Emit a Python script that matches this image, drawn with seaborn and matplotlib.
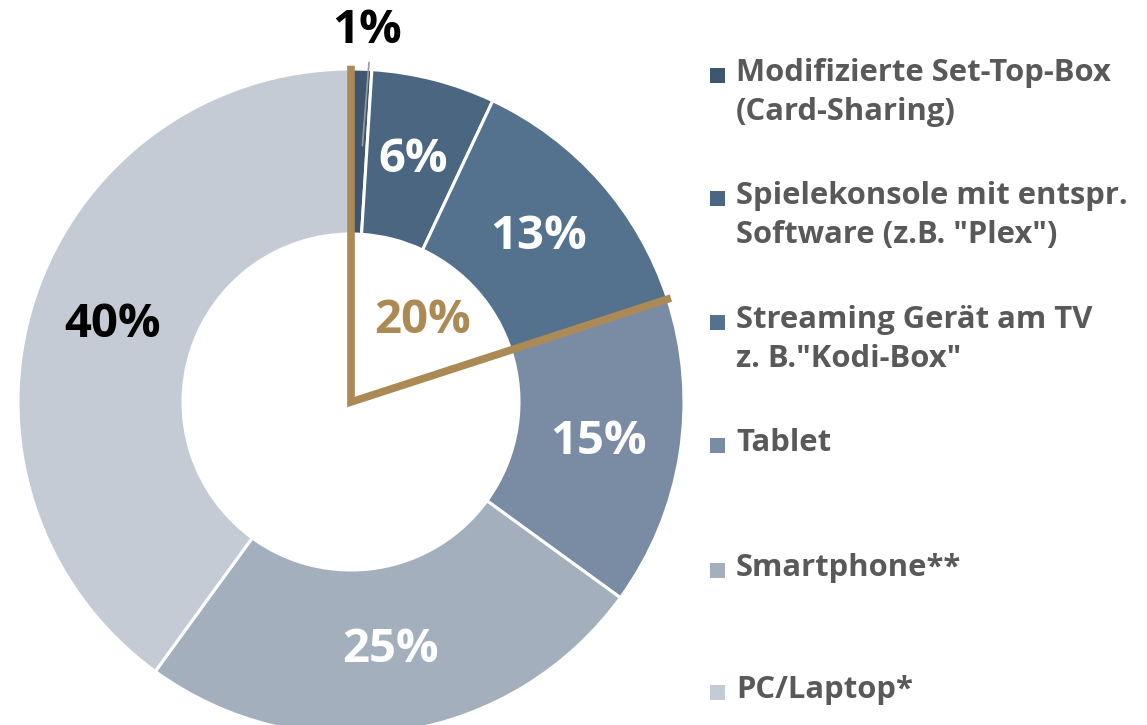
import numpy as np
import matplotlib
matplotlib.use("Agg")
import matplotlib.pyplot as plt
import seaborn as sns
from matplotlib.patches import Rectangle

categories = [
    "Modifizierte Set-Top-Box\n(Card-Sharing)",
    "Spielekonsole mit entspr.\nSoftware (z.B. \"Plex\")",
    "Streaming Gerät am TV\nz. B.\"Kodi-Box\"",
    "Tablet",
    "Smartphone**",
    "PC/Laptop*",
]
values = [1, 6, 13, 15, 25, 40]
labels = ["1%", "6%", "13%", "15%", "25%", "40%"]
highlight_label = "20%"
highlight_count = 3  # first three segments form the 20% group

colors = ["#3e5670", "#4b6680", "#54718d", "#7a8ca4", "#a4afbe", "#c4cbd4"]
label_colors = ["#000000", "#ffffff", "#ffffff", "#ffffff", "#ffffff", "#000000"]
brown = "#ab8a55"

sns.set_theme(style="white")
plt.rcParams["font.family"] = ["Open Sans", "DejaVu Sans"]

W, H = 1147, 725
fig = plt.figure(figsize=(W / 100, H / 100), dpi=100)
cx, cy, R = 351, 402, 333
ax = fig.add_axes([(cx - R) / W, (H - cy - R) / H, 2 * R / W, 2 * R / H])
ax.axis("off")

inner = 168 / R
wedges, _ = ax.pie(values, colors=colors, startangle=90, counterclock=False,
                   radius=1, wedgeprops=dict(width=1 - inner, edgecolor="white", linewidth=2.2))
ax.set_xlim(-1, 1)
ax.set_ylim(-1, 1)
ax.set_aspect("equal")
for w in wedges:
    w.set_clip_on(False)

total = float(sum(values))
cum = np.cumsum([0] + values) / total
mid_r = (1 + inner) / 2
for i, (lab, lc) in enumerate(zip(labels, label_colors)):
    mid = (cum[i] + cum[i + 1]) / 2
    ang = np.deg2rad(90 - 360 * mid)
    if i == 0:
        r_lab = 1.115
        ax.plot([np.cos(ang) * 0.77 + 0.01, np.cos(ang) * 1.02 + 0.022],
                [np.sin(ang) * 0.77, np.sin(ang) * 1.02],
                color="#9a9a9a", lw=1.2, clip_on=False, zorder=3)
    else:
        r_lab = mid_r
    ax.text(np.cos(ang) * r_lab + (0.012 if i == 0 else 0), np.sin(ang) * r_lab, lab,
            ha="center", va="center", fontsize=34, fontweight="bold", color=lc,
            clip_on=False, zorder=5)

# highlight outline of first group
a0 = np.deg2rad(90 - 360 * cum[0])
a1 = np.deg2rad(90 - 360 * cum[highlight_count])
ro = 1.01
ax.plot([np.cos(a0) * ro, 0, np.cos(a1) * ro], [np.sin(a0) * ro, 0, np.sin(a1) * ro],
        color=brown, lw=5.5, solid_joinstyle="miter", solid_capstyle="butt",
        clip_on=False, zorder=4)
ax.text(0.215, 0.245, highlight_label, ha="center", va="center", fontsize=34,
        fontweight="bold", color=brown, zorder=5)

# legend
ys = [75, 198, 322, 445, 570, 692]
for cat, col, y in zip(categories, colors, ys):
    fig.patches.append(Rectangle(((710) / W, 1 - (y + 8) / H), 15 / W, 15 / H,
                                 transform=fig.transFigure, facecolor=col, edgecolor="none"))
    fig.text(736 / W, 1 - (y - 17) / H, cat, ha="left", va="top", fontsize=22.3,
             fontweight="bold", color="#595959", linespacing=1.38)

fig.savefig("out.png", dpi=100)
